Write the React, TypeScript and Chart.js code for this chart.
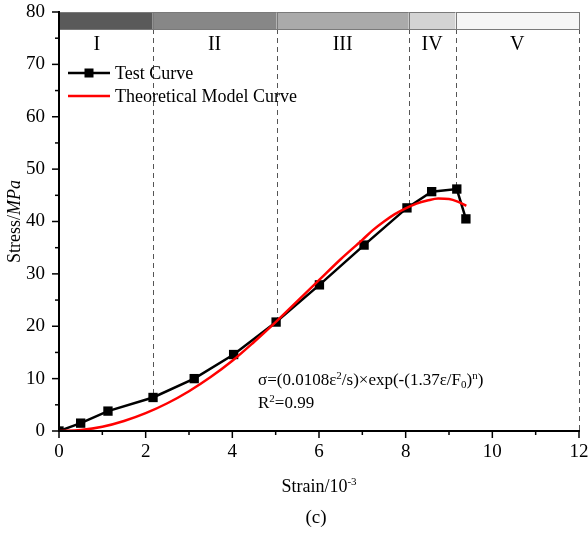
import React, { useEffect, useRef } from "react";
import { Chart, registerables } from "chart.js";

Chart.register(...registerables);

// ---- data ----
const testStrain = [0, 0.5, 1.13, 2.17, 3.12, 4.03, 5.01, 6.01, 7.04, 8.03, 8.6, 9.18, 9.39];
const testStress = [0, 1.5, 3.8, 6.4, 10.0, 14.6, 20.8, 27.9, 35.5, 42.6, 45.7, 46.2, 40.5];

const modelStrain = [0, 0.5, 1, 1.5, 2, 2.5, 3, 3.5, 4, 4.5, 5, 5.5, 6, 6.5, 7, 7.25, 7.5, 7.75, 8, 8.25, 8.5, 8.75, 9, 9.2, 9.4];
const modelStress = [0, 0.2, 0.8, 1.9, 3.4, 5.3, 7.6, 10.3, 13.4, 17.0, 20.8, 24.8, 28.8, 32.8, 36.5, 38.4, 40.0, 41.4, 42.5, 43.4, 44.0, 44.4, 44.3, 43.8, 43.0];

const stageLabels = ["I", "II", "III", "IV", "V"];
const stageBounds = [0, 2.16, 5.02, 8.07, 9.15, 12];
const stageDividerEnds = [6.4, 20.8, 42.6, 46.2, 0];
const stageColors = ["#5a5a5a", "#878787", "#aaaaaa", "#d3d3d3", "#f6f6f6"];
const bandTop = 80;
const bandBottom = 76.75;

const xTickValues = [0, 2, 4, 6, 8, 10, 12];
const yTickValues = [0, 10, 20, 30, 40, 50, 60, 70, 80];

const seriesNames = ["Test Curve", "Theoretical Model Curve"];

const SERIF = '"Liberation Serif", "Times New Roman", serif';

type Part = { t: string; it?: boolean; sup?: boolean; sub?: boolean };

function drawParts(
  ctx: CanvasRenderingContext2D,
  parts: Part[],
  x: number,
  y: number,
  size: number,
  align: "left" | "center"
) {
  const fontFor = (p: Part) =>
    `${p.it ? "italic " : ""}${p.sup || p.sub ? Math.round(size * 0.62) : size}px ${SERIF}`;
  let total = 0;
  for (const p of parts) {
    ctx.font = fontFor(p);
    total += ctx.measureText(p.t).width;
  }
  let cx = align === "center" ? x - total / 2 : x;
  ctx.textAlign = "left";
  ctx.textBaseline = "alphabetic";
  for (const p of parts) {
    ctx.font = fontFor(p);
    const dy = p.sup ? -size * 0.38 : p.sub ? size * 0.2 : 0;
    ctx.fillText(p.t, cx, y + dy);
    cx += ctx.measureText(p.t).width;
  }
}

const decorPlugin = {
  id: "decor",
  beforeDatasetsDraw(chart: any) {
    const { ctx, scales } = chart;
    const x = scales.x;
    const y = scales.y;
    ctx.save();
    ctx.strokeStyle = "#555555";
    ctx.lineWidth = 1;
    ctx.setLineDash([5, 4]);
    for (let i = 1; i < stageBounds.length; i++) {
      const px = Math.round(x.getPixelForValue(stageBounds[i])) + 0.5;
      ctx.beginPath();
      ctx.moveTo(px, y.getPixelForValue(bandBottom));
      ctx.lineTo(px, y.getPixelForValue(stageDividerEnds[i - 1]));
      ctx.stroke();
    }
    ctx.restore();
  },
  afterDraw(chart: any) {
    const { ctx, scales } = chart;
    const x = scales.x;
    const y = scales.y;
    const x0 = x.getPixelForValue(0);
    const y0 = y.getPixelForValue(0);
    ctx.save();

    // stage band
    const yt = y.getPixelForValue(bandTop);
    const yb = y.getPixelForValue(bandBottom);
    for (let i = 0; i < stageLabels.length; i++) {
      const xa = x.getPixelForValue(stageBounds[i]);
      const xb = x.getPixelForValue(stageBounds[i + 1]);
      ctx.fillStyle = stageColors[i];
      ctx.fillRect(xa, yt, xb - xa, yb - yt);
      ctx.strokeStyle = "#7a7a7a";
      ctx.lineWidth = 1;
      ctx.strokeRect(Math.round(xa) + 0.5, Math.round(yt) + 0.5, Math.round(xb - xa), Math.round(yb - yt));
      ctx.fillStyle = "#000";
      const labelX = i === 0 ? (xa + xb) / 2 - 9 : (xa + xb) / 2;
      drawParts(ctx, [{ t: stageLabels[i] }], labelX, yb + 21, 20, "center");
    }

    // axes lines and ticks
    ctx.strokeStyle = "#000";
    ctx.lineWidth = 2;
    ctx.beginPath();
    ctx.moveTo(x0, y.getPixelForValue(80) - 1);
    ctx.lineTo(x0, y0);
    ctx.lineTo(x.getPixelForValue(12) + 1, y0);
    ctx.stroke();
    ctx.lineWidth = 1.5;
    for (let v = 0; v <= 12; v++) {
      const px = x.getPixelForValue(v);
      const len = v % 2 === 0 ? 7 : 4;
      ctx.beginPath();
      ctx.moveTo(px, y0);
      ctx.lineTo(px, y0 + len);
      ctx.stroke();
    }
    for (let v = 0; v <= 80; v += 5) {
      const py = y.getPixelForValue(v);
      const len = v % 10 === 0 ? 7 : 4;
      ctx.beginPath();
      ctx.moveTo(x0, py);
      ctx.lineTo(x0 - len, py);
      ctx.stroke();
    }

    ctx.fillStyle = "#000";
    // axis titles
    const cx = (chart.chartArea.left + chart.chartArea.right) / 2;
    drawParts(ctx, [{ t: "Strain/10" }, { t: "-3", sup: true }], cx, 492, 18, "center");
    drawParts(ctx, [{ t: "(c)" }], cx - 3, 523, 19, "center");
    ctx.save();
    ctx.translate(20, (chart.chartArea.top + chart.chartArea.bottom) / 2);
    ctx.rotate(-Math.PI / 2);
    drawParts(ctx, [{ t: "Stress/" }, { t: "MPa", it: true }], 0, 0, 18, "center");
    ctx.restore();

    // legend
    const legY = [73, 96];
    const legColors = ["#000000", "#ff0000"];
    for (let i = 0; i < 2; i++) {
      ctx.strokeStyle = legColors[i];
      ctx.lineWidth = 2.5;
      ctx.beginPath();
      ctx.moveTo(68, legY[i]);
      ctx.lineTo(110, legY[i]);
      ctx.stroke();
      if (i === 0) {
        ctx.fillStyle = "#000";
        ctx.fillRect(84.5, legY[i] - 4.5, 9, 9);
      }
      ctx.fillStyle = "#000";
      drawParts(ctx, [{ t: seriesNames[i] }], 115, legY[i] + 6, 18, "left");
    }

    // equation
    drawParts(
      ctx,
      [
        { t: "σ=(0.0108ε" },
        { t: "2", sup: true },
        { t: "/s)×exp(-(1.37ε/F" },
        { t: "0", sub: true },
        { t: ")" },
        { t: "n", sup: true },
        { t: ")" },
      ],
      258,
      385,
      17,
      "left"
    );
    drawParts(ctx, [{ t: "R" }, { t: "2", sup: true }, { t: "=0.99" }], 258, 408, 17, "left");
    ctx.restore();
  },
};

export default function App() {
  const ref = useRef<HTMLCanvasElement | null>(null);
  useEffect(() => {
    if (!ref.current) return;
    const chart = new Chart(ref.current, {
      type: "line",
      data: {
        datasets: [
          {
            label: seriesNames[1],
            data: modelStrain.map((v, i) => ({ x: v, y: modelStress[i] })),
            borderColor: "#ff0000",
            borderWidth: 2.5,
            pointRadius: 0,
            cubicInterpolationMode: "monotone",
            fill: false,
          },
          {
            label: seriesNames[0],
            data: testStrain.map((v, i) => ({ x: v, y: testStress[i] })),
            borderColor: "#000000",
            backgroundColor: "#000000",
            borderWidth: 2.5,
            pointStyle: "rect",
            pointRadius: 6.6,
            pointBorderWidth: 0,
            tension: 0,
            fill: false,
            clip: 0,
          },
        ],
      },
      options: {
        responsive: false,
        animation: false,
        devicePixelRatio: 1,
        layout: { padding: { top: 12, right: 9, left: 0, bottom: 0 } },
        plugins: { legend: { display: false }, tooltip: { enabled: false }, title: { display: false } },
        scales: {
          x: {
            type: "linear",
            min: 0,
            max: 12,
            grid: { display: false, drawTicks: true, tickLength: 7 },
            border: { display: false },
            afterBuildTicks: (s: any) => {
              s.ticks = xTickValues.map((v) => ({ value: v }));
            },
            ticks: {
              autoSkip: false,
              maxRotation: 0,
              padding: 3,
              color: "#000",
              font: { family: SERIF, size: 19 },
              callback: (v: any) => String(v),
            },
            afterFit: (s: any) => {
              s.height = 103;
              s.paddingLeft = 0;
              s.paddingRight = 0;
              s.paddingTop = 0;
              s.paddingBottom = 0;
            },
          },
          y: {
            type: "linear",
            min: 0,
            max: 80,
            grid: { display: false, drawTicks: true, tickLength: 7 },
            border: { display: false },
            afterBuildTicks: (s: any) => {
              s.ticks = yTickValues.map((v) => ({ value: v }));
            },
            ticks: {
              autoSkip: false,
              padding: 7,
              color: "#000",
              font: { family: SERIF, size: 19 },
              callback: (v: any) => String(v),
            },
            afterFit: (s: any) => {
              s.width = 59;
              s.paddingLeft = 0;
              s.paddingRight = 0;
              s.paddingTop = 0;
              s.paddingBottom = 0;
            },
          },
        },
      },
      plugins: [decorPlugin],
    });
    return () => chart.destroy();
  }, []);
  return (
    <div style={{ position: "absolute", left: 0, top: 0, width: 588, height: 534, background: "#fff" }}>
      <canvas ref={ref} width={588} height={534} style={{ display: "block", width: 588, height: 534 }} />
    </div>
  );
}
